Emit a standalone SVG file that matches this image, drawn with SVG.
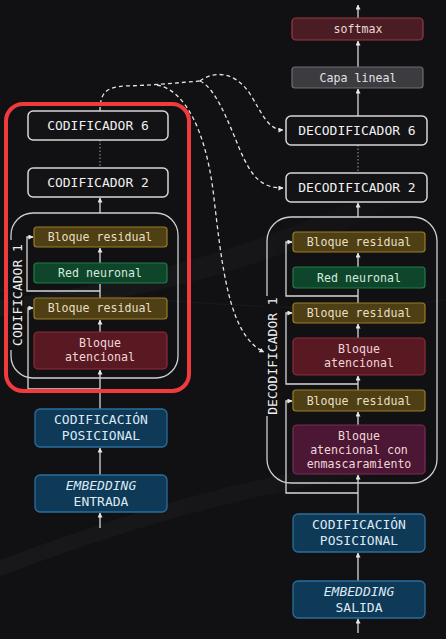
<svg xmlns="http://www.w3.org/2000/svg" width="446" height="639" viewBox="0 0 446 639">
<defs>
<marker id="ah" viewBox="0 0 6 6" refX="5.5" refY="3" markerWidth="5" markerHeight="5" markerUnits="userSpaceOnUse" orient="auto">
<path d="M0,0 L6,3 L0,6 z" fill="#e6e6e6"/>
</marker>
<linearGradient id="sw" x1="0" y1="0" x2="1" y2="0">
<stop offset="0" stop-color="#ffffff" stop-opacity="0.03"/>
<stop offset="0.6" stop-color="#ffffff" stop-opacity="0.02"/>
<stop offset="1" stop-color="#ffffff" stop-opacity="0"/>
</linearGradient>
</defs>
<style>
text{font-family:"DejaVu Sans Mono","Liberation Mono",monospace;text-anchor:middle}
.hd{font-size:13px;fill:#f0f0f0}
.sm{font-size:11.6px}
.frame{fill:#131315;stroke:#d6d6d6;stroke-width:1.5}
.res{fill:#4e3f14;stroke:#9a7c26;stroke-width:1.2}
.res-t{fill:#eadfc2}
.nn{fill:#0f452a;stroke:#1f7c4a;stroke-width:1.2}
.nn-t{fill:#d2ecdc}
.att{fill:#581923;stroke:#8e2c3a;stroke-width:1.2}
.att-t{fill:#f2d6d8}
.msk{fill:#4b1734;stroke:#7e2a58;stroke-width:1.2}
.pos{fill:#0e3957;stroke:#2b6d9d;stroke-width:1.3}
.pos-t{fill:#dce9f5;font-size:13px}
.cont{fill:none;stroke:#cfcfcf;stroke-width:1.3}
.ln{fill:none;stroke:#d8d8d8;stroke-width:1.3}
.arr{fill:none;stroke:#d8d8d8;stroke-width:1.3;marker-end:url(#ah)}
.dot{fill:none;stroke:#8a8a8a;stroke-width:1.2;stroke-dasharray:1.5 2}
.dash{fill:none;stroke:#e4e4e4;stroke-width:1.3;stroke-dasharray:4 3}
</style>
<rect x="0" y="0" width="446" height="639" fill="#111113"/>
<path d="M0,300 C120,285 260,250 446,160 L446,180 C280,270 140,300 0,316 z" fill="url(#sw)"/>
<path d="M0,560 C150,505 250,475 446,445 L446,462 C260,490 150,520 0,576 z" fill="url(#sw)"/>
<path d="M0,290 C150,295 300,320 446,300" fill="none" stroke="#ffffff" stroke-opacity="0.04" stroke-width="1"/>

<g id="connectors">
<path class="dash" d="M100,111 C100,93 106,87 125,86 C160,85 185,82 200,81"/>
<path class="dash" d="M200,81 C214,70 236,72 250,94 C262,113 268,130 283,130" marker-end="url(#ah)"/>
<path class="dash" d="M200,81 C215,88 226,116 240,150 C252,178 262,188 283,188" marker-end="url(#ah)"/>
<path class="dash" d="M157,85 C185,90 205,130 213,190 C222,265 228,335 264,352" marker-end="url(#ah)"/>
<line class="dot" x1="100" y1="140" x2="100" y2="168"/>
<path class="arr" d="M100,213 V198"/>
<path class="arr" d="M100,263 V248"/>
<path class="ln" d="M100,298 V284"/>
<path class="arr" d="M100,291 H27 V237 H33"/>
<path class="arr" d="M100,332 V320"/>
<path class="arr" d="M100,409 V370"/>
<path class="arr" d="M100,389 H28 V308 H33"/>
<path class="arr" d="M100,475 V448"/>
<path class="arr" d="M100,528 V513"/>
<path class="arr" d="M358,18 V5"/>
<path class="arr" d="M358,67 V41"/>
<path class="arr" d="M358,116 V89"/>
<line class="dot" x1="358" y1="145" x2="358" y2="173"/>
<path class="arr" d="M358,217 V203"/>
<path class="arr" d="M358,267 V253"/>
<path class="ln" d="M358,303 V289"/>
<path class="arr" d="M358,296 H286 V242 H292"/>
<path class="arr" d="M358,338 V324"/>
<path class="arr" d="M358,384 H286 V313 H292"/>
<path class="arr" d="M358,390 V376"/>
<path class="arr" d="M358,425 V412"/>
<path class="arr" d="M358,493 H286 V401 H292"/>
<path class="arr" d="M358,514 V475"/>
<path class="arr" d="M358,581 V553"/>
<path class="arr" d="M358,633 V619"/>
</g>

<g id="codificador6"><rect class="frame" x="28" y="111" width="140" height="29" rx="5"/><text class="hd" x="98" y="130">CODIFICADOR 6</text></g>
<g id="codificador2"><rect class="frame" x="28" y="168" width="140" height="29" rx="5"/><text class="hd" x="98" y="187">CODIFICADOR 2</text></g>
<g id="codificador1">
<rect class="cont" x="11" y="213" width="167" height="165" rx="22"/>
<rect x="9" y="240" width="15" height="110" fill="#111113"/>
<text class="hd" transform="translate(22,295) rotate(-90)">CODIFICADOR 1</text>
</g>
<g id="enc-res2"><rect class="res" x="34" y="227" width="133" height="20" rx="3"/><text class="sm res-t" x="100" y="241">Bloque residual</text></g>
<g id="enc-nn"><rect class="nn" x="34" y="263" width="133" height="20" rx="3"/><text class="sm nn-t" x="100" y="277">Red neuronal</text></g>
<g id="enc-res1"><rect class="res" x="34" y="298" width="133" height="21" rx="3"/><text class="sm res-t" x="100" y="312">Bloque residual</text></g>
<g id="enc-att"><rect class="att" x="34" y="332" width="133" height="37" rx="4"/><text class="sm att-t" x="100" y="347">Bloque</text><text class="sm att-t" x="100" y="361">atencional</text></g>
<g id="enc-pos"><rect class="pos" x="35" y="409" width="132" height="38" rx="5"/><text class="pos-t" x="101" y="424">CODIFICACIÓN</text><text class="pos-t" x="101" y="440">POSICIONAL</text></g>
<g id="enc-emb"><rect class="pos" x="35" y="475" width="132" height="37" rx="5"/><text class="pos-t" x="101" y="490" font-style="italic">EMBEDDING</text><text class="pos-t" x="101" y="506">ENTRADA</text></g>

<g id="softmax"><rect x="292" y="18" width="131" height="22" rx="4" fill="#4a1c23" stroke="#9a3a46" stroke-width="1.2"/><text class="sm" x="358" y="33" fill="#ecd6d8">softmax</text></g>
<g id="capa-lineal"><rect x="292" y="67" width="131" height="21" rx="3" fill="#3c3c40" stroke="#6c6c72" stroke-width="1.2"/><text class="sm" x="358" y="82" fill="#e2e2e4">Capa lineal</text></g>
<g id="decodificador6"><rect class="frame" x="286" y="116" width="141" height="29" rx="5"/><text class="hd" x="357" y="135">DECODIFICADOR 6</text></g>
<g id="decodificador2"><rect class="frame" x="286" y="173" width="141" height="29" rx="5"/><text class="hd" x="357" y="192">DECODIFICADOR 2</text></g>
<g id="decodificador1">
<rect class="cont" x="267" y="217" width="170" height="266" rx="24"/>
<rect x="265" y="296" width="15" height="120" fill="#111113"/>
<text class="hd" transform="translate(277,356) rotate(-90)">DECODIFICADOR 1</text>
</g>
<g id="dec-res3"><rect class="res" x="293" y="232" width="132" height="20" rx="3"/><text class="sm res-t" x="359" y="246">Bloque residual</text></g>
<g id="dec-nn"><rect class="nn" x="293" y="267" width="132" height="21" rx="3"/><text class="sm nn-t" x="359" y="282">Red neuronal</text></g>
<g id="dec-res2"><rect class="res" x="293" y="303" width="132" height="20" rx="3"/><text class="sm res-t" x="359" y="317">Bloque residual</text></g>
<g id="dec-att"><rect class="att" x="293" y="338" width="132" height="37" rx="4"/><text class="sm att-t" x="359" y="353">Bloque</text><text class="sm att-t" x="359" y="367">atencional</text></g>
<g id="dec-res1"><rect class="res" x="293" y="390" width="132" height="21" rx="3"/><text class="sm res-t" x="359" y="405">Bloque residual</text></g>
<g id="dec-masked"><rect class="msk" x="293" y="425" width="132" height="49" rx="4"/><text class="sm att-t" x="359" y="440">Bloque</text><text class="sm att-t" x="359" y="454">atencional con</text><text class="sm att-t" x="359" y="468">enmascaramiento</text></g>
<g id="dec-pos"><rect class="pos" x="293" y="514" width="132" height="38" rx="5"/><text class="pos-t" x="359" y="529">CODIFICACIÓN</text><text class="pos-t" x="359" y="545">POSICIONAL</text></g>
<g id="dec-emb"><rect class="pos" x="293" y="581" width="132" height="37" rx="5"/><text class="pos-t" x="359" y="596" font-style="italic">EMBEDDING</text><text class="pos-t" x="359" y="612">SALIDA</text></g>

<g id="highlight"><rect x="6" y="104" width="183" height="287" rx="17" fill="none" stroke="#f03a3c" stroke-width="4"/></g>
</svg>
